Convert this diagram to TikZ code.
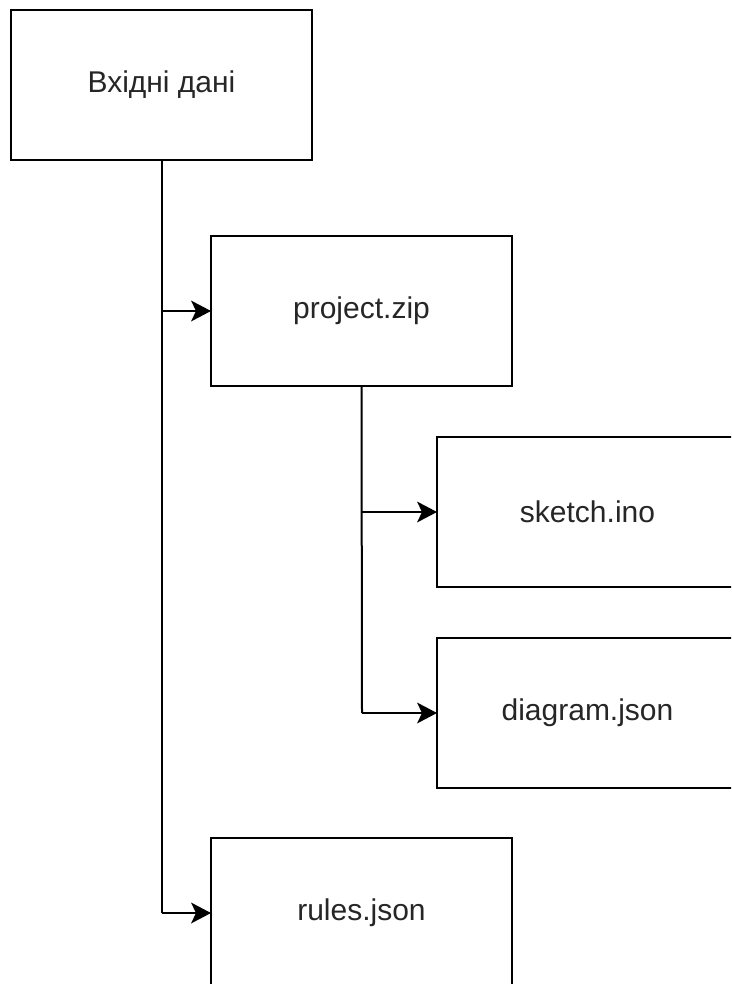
\documentclass[tikz,border=0pt]{standalone}
\usepackage{fontspec}
\setmainfont{Liberation Sans}
\usetikzlibrary{arrows.meta}
\begin{document}
\begin{tikzpicture}[x=1pt,y=-1pt,
  box/.style={draw=black, line width=2pt, fill=white, minimum width=301pt, minimum height=150pt, inner sep=0pt, outer sep=0pt, anchor=north west,
    font=\fontsize{30}{33}\selectfont, text=black!85},
  link/.style={draw=black, line width=2pt, -{Stealth[length=20pt,width=21pt,inset=5pt,line width=0pt]}},
  trunk/.style={draw=black, line width=2pt}]
  \useasboundingbox (0,0) rectangle (731,984);
  \clip (0,0) rectangle (731,984);
  \fill[white] (0,0) rectangle (731,984);
  % boxes with their labels
  \node[box] (in) at (11,10) {Вхідні дані};
  \node[box] (zip) at (211,236) {project.zip};
  \node[box] (ino) at (437,437) {sketch.ino};
  \node[box] (dia) at (437,638) {diagram.json};
  \node[box] (rul) at (211,838) {rules.json};
  % branch points
  \coordinate (a1) at (161.5,311);
  \coordinate (a2) at (161.5,913);
  \coordinate (b1) at (362,512);
  \coordinate (b2) at (362,713);
  % connectors
  \draw[trunk] (in.south) -- (a2);
  \draw[link] (a1) -- (zip.west);
  \draw[link] (a2) -- (rul.west);
  \draw[trunk] (zip.south) -- (b2);
  \draw[link] (b1) -- (ino.west);
  \draw[link] (b2) -- (dia.west);
\end{tikzpicture}
\end{document}
